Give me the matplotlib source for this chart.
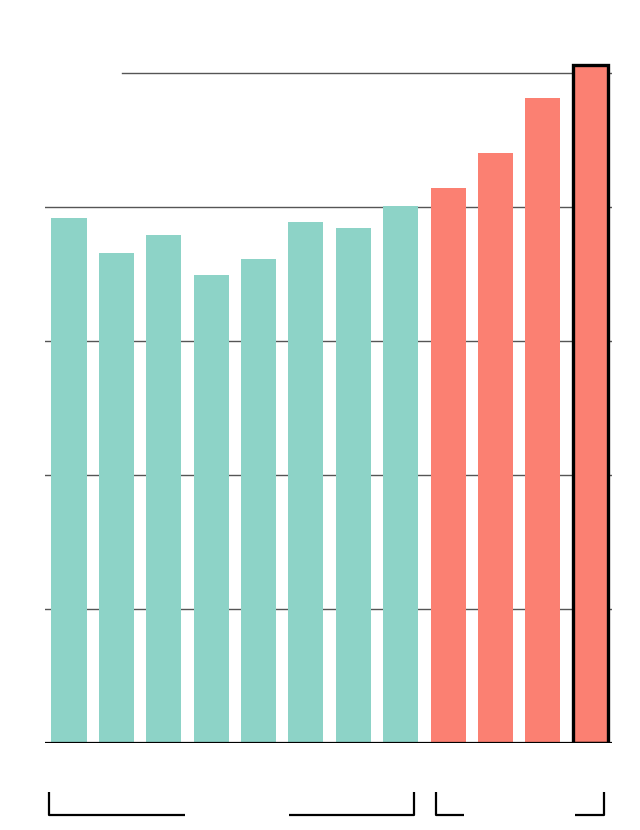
import matplotlib.pyplot as plt
import matplotlib.transforms as mtransforms

# valores (12 barras, dos grupos)
values = [3.92, 3.66, 3.79, 3.49, 3.61, 3.89, 3.84, 4.01, 4.14, 4.40, 4.81, 5.06]
groups = [0, 0, 0, 0, 0, 0, 0, 0, 1, 1, 1, 1]
group_colors = ["#8dd3c7", "#fb8072"]
gridlines = [1, 2, 3, 4]
top_line = 5

fig = plt.figure(figsize=(6.4, 8.3), dpi=100)
ax = fig.add_axes([45 / 640, 87 / 830, 567 / 640, (5.4 * 134) / 830])

x = list(range(len(values)))
colors = [group_colors[g] for g in groups]
bars = ax.bar(x, values, width=0.74, color=colors, zorder=2)

# ultima barra destacada
bars[-1].set_edgecolor("black")
bars[-1].set_linewidth(2.4)
bars[-1].set_zorder(3)

ax.set_xlim(-0.507, 11.46)
ax.set_ylim(0, 5.4)

for g in gridlines:
    ax.axhline(g, color="#555555", lw=1, zorder=1)
ax.axhline(top_line, xmin=0.136, color="#555555", lw=1, zorder=1)
ax.axhline(0, color="black", lw=1.6, zorder=4)

for s in ax.spines.values():
    s.set_visible(False)
ax.set_xticks([])
ax.set_yticks([])

# corchetes de los grupos debajo del eje
y_low, y_high = -0.537, -0.366
kw = dict(color="black", lw=1.6, clip_on=False, solid_capstyle="butt")
# grupo 1: barras 0-7
ax.plot([-0.43, -0.43, 2.44], [y_high, y_low, y_low], **kw)
ax.plot([4.64, 7.28, 7.28], [y_low, y_low, y_high], **kw)
# grupo 2: barras 8-11
ax.plot([7.74, 7.74, 8.33], [y_high, y_low, y_low], **kw)
ax.plot([10.67, 11.29, 11.29], [y_low, y_low, y_high], **kw)

fig.savefig("out.png", dpi=100)
